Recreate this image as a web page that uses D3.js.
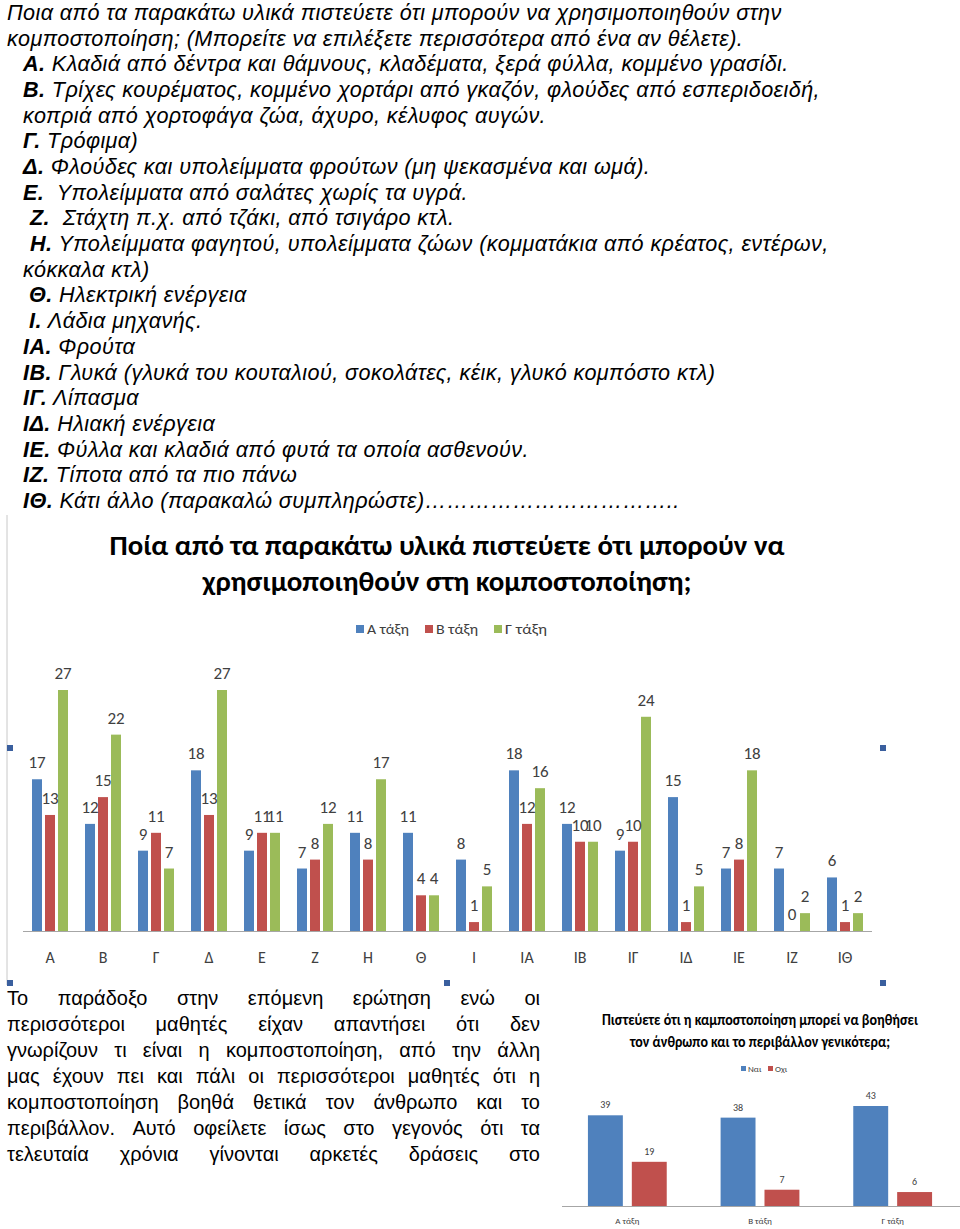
<!DOCTYPE html>
<html>
<head>
<meta charset="utf-8">
<script src="https://cdn.jsdelivr.net/npm/d3@7"></script>
<style>
  body { margin: 0; background: #fff; }
  svg { display: block; }
</style>
</head>
<body>
<script>
// ---- data ----
const questionLines = [
  ["", "Ποια από τα παρακάτω υλικά πιστεύετε ότι μπορούν να χρησιμοποιηθούν στην", 7],
  ["", "κομποστοποίηση; (Μπορείτε να επιλέξετε περισσότερα από ένα αν θέλετε).", 7],
  ["Α.", " Κλαδιά από δέντρα και θάμνους, κλαδέματα, ξερά φύλλα, κομμένο γρασίδι.", 23],
  ["Β.", " Τρίχες κουρέματος, κομμένο χορτάρι από γκαζόν, φλούδες από εσπεριδοειδή,", 23],
  ["", "κοπριά από χορτοφάγα ζώα, άχυρο, κέλυφος αυγών.", 23],
  ["Γ.", " Τρόφιμα)", 23],
  ["Δ.", " Φλούδες και υπολείμματα φρούτων (μη ψεκασμένα και ωμά).", 23],
  ["Ε.", "  Υπολείμματα από σαλάτες χωρίς τα υγρά.", 23],
  ["Ζ.", "  Στάχτη π.χ. από τζάκι, από τσιγάρο κτλ.", 30],
  ["Η.", " Υπολείμματα φαγητού, υπολείμματα ζώων (κομματάκια από κρέατος, εντέρων,", 30],
  ["", "κόκκαλα κτλ)", 23],
  ["Θ.", " Ηλεκτρική ενέργεια", 29],
  ["Ι.", " Λάδια μηχανής.", 29],
  ["ΙΑ.", " Φρούτα", 23],
  ["ΙΒ.", " Γλυκά (γλυκά του κουταλιού, σοκολάτες, κέικ, γλυκό κομπόστο κτλ)", 23],
  ["ΙΓ.", " Λίπασμα", 23],
  ["ΙΔ.", " Ηλιακή ενέργεια", 23],
  ["ΙΕ.", " Φύλλα και κλαδιά από φυτά τα οποία ασθενούν.", 23],
  ["ΙΖ.", " Τίποτα από τα πιο πάνω", 23],
  ["ΙΘ.", " Κάτι άλλο (παρακαλώ συμπληρώστε)……………………………..", 23]
];

const categories = ["Α","Β","Γ","Δ","Ε","Ζ","Η","Θ","Ι","ΙΑ","ΙΒ","ΙΓ","ΙΔ","ΙΕ","ΙΖ","ΙΘ"];
const seriesNames = ["Α τάξη","Β τάξη","Γ τάξη"];
const classA = [17,12,9,18,9,7,11,11,8,18,12,9,15,7,7,6];
const classB = [13,15,11,13,11,8,8,4,1,12,10,10,1,8,0,1];
const classC = [27,22,7,27,11,12,17,4,5,16,10,24,5,18,2,2];

const paragraphLines = [
  "Το παράδοξο στην επόμενη ερώτηση ενώ οι",
  "περισσότεροι μαθητές είχαν απαντήσει ότι δεν",
  "γνωρίζουν τι είναι η κομποστοποίηση, από την άλλη",
  "μας έχουν πει και πάλι οι περισσότεροι μαθητές ότι η",
  "κομποστοποίηση βοηθά θετικά τον άνθρωπο και το",
  "περιβάλλον. Αυτό οφείλετε ίσως στο γεγονός ότι τα",
  "τελευταία χρόνια γίνονται αρκετές δράσεις στο"
];

const classes2 = ["Α τάξη","Β τάξη","Γ τάξη"];
const answers2 = ["Ναι","Οχι"];
const yes2 = [39,38,43];
const no2 = [19,7,6];

const colors = ["#4f81bd","#c0504d","#9bbb59"];
const chartFont = "Carlito, 'Open Sans', sans-serif";

// ---- svg ----
const W = 960, H = 1229;
const svg = d3.select("body").append("svg")
  .attr("width", W)
  .attr("height", H);

// question text
const q = svg.append("g")
  .attr("font-family", "'Liberation Sans', Arial, sans-serif")
  .attr("font-size", 21.6)
  .attr("letter-spacing", 0.42)
  .attr("font-style", "italic")
  .attr("fill", "#000");

questionLines.forEach((l, i) => {
  const t = q.append("text")
    .attr("x", l[2])
    .attr("y", 20 + i * 25.68)
    .attr("xml:space", "preserve");
  if (l[0]) t.append("tspan").attr("font-weight", "bold").text(l[0]);
  t.append("tspan").text(l[1]);
});

// ---- main chart ----
// frame line and handles
svg.append("line")
  .attr("x1", 7).attr("x2", 7).attr("y1", 515).attr("y2", 985)
  .attr("stroke", "#c8c8c8").attr("stroke-width", 1);

[[10, 748], [10, 983], [447, 983], [883, 748], [883, 983]].forEach(p => {
  svg.append("rect")
    .attr("x", p[0] - 3).attr("y", p[1] - 3)
    .attr("width", 6).attr("height", 6)
    .attr("fill", "#3a5f9e");
});

const chart = svg.append("g").attr("font-family", chartFont);

chart.append("text")
  .attr("x", 447).attr("y", 555)
  .attr("text-anchor", "middle")
  .attr("font-size", 28).attr("font-weight", "bold")
  .attr("textLength", 675).attr("lengthAdjust", "spacingAndGlyphs")
  .text("Ποία από τα παρακάτω υλικά πιστεύετε ότι μπορούν να");
chart.append("text")
  .attr("x", 447).attr("y", 591)
  .attr("text-anchor", "middle")
  .attr("font-size", 28).attr("font-weight", "bold")
  .attr("textLength", 489).attr("lengthAdjust", "spacingAndGlyphs")
  .text("χρησιμοποιηθούν στη κομποστοποίηση;");

// legend
const legendX = [356, 425, 494];
seriesNames.forEach((s, i) => {
  chart.append("rect")
    .attr("x", legendX[i]).attr("y", 625)
    .attr("width", 8).attr("height", 8)
    .attr("fill", colors[i]);
  chart.append("text")
    .attr("x", legendX[i] + 11).attr("y", 634)
    .attr("font-size", 15).attr("fill", "#404040")
    .attr("textLength", 42).attr("lengthAdjust", "spacingAndGlyphs")
    .text(s);
});

const x0 = d3.scaleBand()
  .domain(categories)
  .range([23, 872])
  .paddingInner(17 / 53)
  .paddingOuter(9 / 53);

const x1 = d3.scaleBand()
  .domain(seriesNames)
  .range([0, x0.bandwidth()])
  .paddingInner(3 / 13);

const y = d3.scaleLinear()
  .domain([0, 27])
  .range([931, 690]);

const rows = categories.map((c, i) => ({
  cat: c,
  vals: [classA[i], classB[i], classC[i]]
}));

const groups = chart.selectAll("g.grp")
  .data(rows)
  .enter().append("g")
  .attr("class", "grp")
  .attr("transform", d => `translate(${x0(d.cat)},0)`);

groups.selectAll("rect")
  .data(d => d.vals.map((v, j) => ({ s: seriesNames[j], v: v, j: j })))
  .enter().append("rect")
  .attr("x", d => x1(d.s))
  .attr("y", d => y(d.v))
  .attr("width", x1.bandwidth())
  .attr("height", d => y(0) - y(d.v))
  .attr("fill", d => colors[d.j]);

groups.selectAll("text.val")
  .data(d => d.vals.map((v, j) => ({ s: seriesNames[j], v: v, j: j })))
  .enter().append("text")
  .attr("class", "val")
  .attr("x", d => x1(d.s) + x1.bandwidth() / 2)
  .attr("y", d => y(d.v) - 11)
  .attr("text-anchor", "middle")
  .attr("font-size", 17)
  .attr("fill", "#404040")
  .text(d => d.v);

// axis
const xAxis = chart.append("g")
  .attr("transform", `translate(0,${y(0)})`)
  .call(d3.axisBottom(x0).tickSize(0).tickPadding(21));
xAxis.select(".domain").attr("stroke", "#a6a6a6").attr("d", "M23,0.5H872");
xAxis.selectAll("text")
  .attr("font-family", chartFont)
  .attr("font-size", 16)
  .attr("fill", "#404040");

// ---- paragraph (justified) ----
const para = svg.append("g")
  .attr("font-family", "'Liberation Sans', Arial, sans-serif")
  .attr("font-size", 20)
  .attr("fill", "#000");

paragraphLines.forEach((line, i) => {
  const words = line.split(" ");
  const by = 1005 + i * 26;
  const nodes = words.map(w => para.append("text").attr("y", by).text(w));
  const widths = nodes.map(n => n.node().getComputedTextLength());
  const total = d3.sum(widths);
  const gap = (540 - 7 - total) / (words.length - 1);
  let cx = 7;
  nodes.forEach((n, k) => {
    n.attr("x", cx);
    cx += widths[k] + gap;
  });
});

// ---- second chart ----
const c2 = svg.append("g").attr("font-family", chartFont);

c2.append("text")
  .attr("x", 760).attr("y", 1025)
  .attr("text-anchor", "middle")
  .attr("font-size", 15).attr("font-weight", "bold")
  .attr("textLength", 316).attr("lengthAdjust", "spacingAndGlyphs")
  .text("Πιστεύετε ότι η καμποστοποίηση μπορεί να βοηθήσει");
c2.append("text")
  .attr("x", 760).attr("y", 1047)
  .attr("text-anchor", "middle")
  .attr("font-size", 15).attr("font-weight", "bold")
  .attr("textLength", 260).attr("lengthAdjust", "spacingAndGlyphs")
  .text("τον άνθρωπο και το περιβάλλον γενικότερα;");

const legend2X = [741, 768];
answers2.forEach((a, i) => {
  c2.append("rect")
    .attr("x", legend2X[i]).attr("y", 1066)
    .attr("width", 5).attr("height", 5)
    .attr("fill", colors[i]);
  c2.append("text")
    .attr("x", legend2X[i] + 7).attr("y", 1072)
    .attr("font-size", 9).attr("fill", "#404040")
    .text(a);
});

const bx0 = d3.scaleBand()
  .domain(classes2)
  .range([560, 960])
  .paddingInner(54 / 133)
  .paddingOuter(28 / 133);

const bx1 = d3.scaleBand()
  .domain(answers2)
  .range([0, bx0.bandwidth()])
  .paddingInner(9 / 44);

const y2 = d3.scaleLinear()
  .domain([0, 43])
  .range([1206, 1106]);

const rows2 = classes2.map((c, i) => ({ cat: c, vals: [yes2[i], no2[i]] }));

const g2 = c2.selectAll("g.grp2")
  .data(rows2)
  .enter().append("g")
  .attr("class", "grp2")
  .attr("transform", d => `translate(${bx0(d.cat)},0)`);

g2.selectAll("rect")
  .data(d => d.vals.map((v, j) => ({ s: answers2[j], v: v, j: j })))
  .enter().append("rect")
  .attr("x", d => bx1(d.s))
  .attr("y", d => y2(d.v))
  .attr("width", bx1.bandwidth())
  .attr("height", d => y2(0) - y2(d.v))
  .attr("fill", d => colors[d.j]);

g2.selectAll("text")
  .data(d => d.vals.map((v, j) => ({ s: answers2[j], v: v, j: j })))
  .enter().append("text")
  .attr("x", d => bx1(d.s) + bx1.bandwidth() / 2)
  .attr("y", d => y2(d.v) - 7)
  .attr("text-anchor", "middle")
  .attr("font-size", 10)
  .attr("fill", "#404040")
  .text(d => d.v);

const xAxis2 = c2.append("g")
  .attr("transform", `translate(0,${y2(0)})`)
  .call(d3.axisBottom(bx0).tickSize(0).tickPadding(12));
xAxis2.select(".domain").attr("stroke", "#a6a6a6").attr("d", "M562,0.5H960");
xAxis2.selectAll("text")
  .attr("font-family", chartFont)
  .attr("font-size", 9)
  .attr("fill", "#404040");
</script>
</body>
</html>
